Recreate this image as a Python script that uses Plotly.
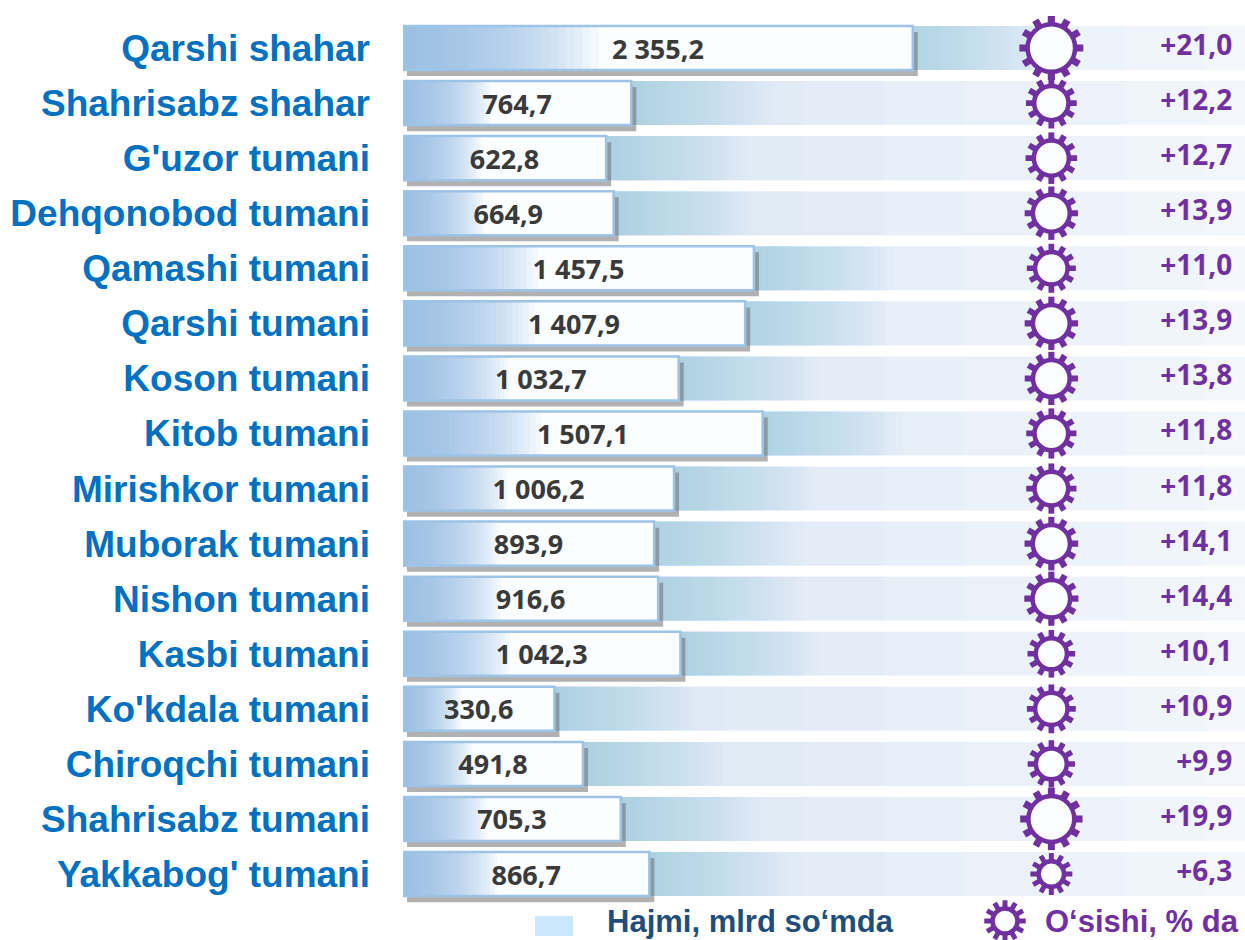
import plotly.graph_objects as go

# ---------------- data ----------------
districts = ["Qarshi shahar", "Shahrisabz shahar", "G'uzor tumani", "Dehqonobod tumani",
             "Qamashi tumani", "Qarshi tumani", "Koson tumani", "Kitob tumani",
             "Mirishkor tumani", "Muborak tumani", "Nishon tumani", "Kasbi tumani",
             "Ko'kdala tumani", "Chiroqchi tumani", "Shahrisabz tumani", "Yakkabog' tumani"]
volume = [2355.2, 764.7, 622.8, 664.9, 1457.5, 1407.9, 1032.7, 1507.1,
          1006.2, 893.9, 916.6, 1042.3, 330.6, 491.8, 705.3, 866.7]
growth = [21.0, 12.2, 12.7, 13.9, 11.0, 13.9, 13.8, 11.8,
          11.8, 14.1, 14.4, 10.1, 10.9, 9.9, 19.9, 6.3]
legend_volume = "Hajmi, mlrd so‘mda"
legend_growth = "O‘sishi, % da"

# ---------------- layout constants ----------------
W, H = 1245, 940
ML, MR = 403, 0
X0, XMAX = -525, 4232           # truncated value axis (bars start at its left edge)
PLOT_W = W - ML - MR
PX = (XMAX - X0) / PLOT_W         # data units per pixel
ROW = 55.07
Y_TOP = -48 / ROW
Y_BOT = Y_TOP + H / ROW
LEG_Y = (921 - 48) / ROW

PURPLE = "#7030A0"
BLUE = "rgb(157,195,230)"
n = len(districts)
ys = list(range(n))


def fmt_vol(v):
    return f"{v:,.1f}".replace(",", " ").replace(".", ",")


def fmt_growth(g):
    return f"+{g:.1f}".replace(".", ",")


fig = go.Figure()
BW = 0.8

# background track (slow left-to-right fade)
fig.add_trace(go.Bar(y=ys, x=[XMAX - X0] * n, base=[X0] * n, orientation="h", width=BW,
                     marker=dict(color="#f3f7fc", line=dict(width=0)), hoverinfo="skip"))
for k in range(1, 11):
    fig.add_trace(go.Bar(y=ys, x=[(XMAX - X0) * k / 10.5] * n, base=[X0] * n,
                         orientation="h", width=BW,
                         marker=dict(color="rgba(170,200,238,0.035)", line=dict(width=0)),
                         hoverinfo="skip"))
# quick gradient on the track, starting at box end
for k in range(1, 21):
    fig.add_trace(go.Bar(y=ys, x=[7 * k * PX] * n, base=volume, orientation="h", width=BW,
                         marker=dict(color="rgba(150,186,232,0.037)", line=dict(width=0)),
                         hoverinfo="skip"))
# shadow
fig.add_trace(go.Bar(y=ys, x=[v - X0 + 1 * PX for v in volume], base=[X0 + 4 * PX] * n,
                     orientation="h", width=BW, offset=-BW / 2 + 0.11,
                     marker=dict(color="rgba(100,100,100,0.5)", line=dict(width=0)),
                     hoverinfo="skip"))
# white box
fig.add_trace(go.Bar(y=ys, x=[v - X0 for v in volume], base=[X0] * n, orientation="h",
                     width=BW, marker=dict(color="#fbfdff", line=dict(width=0)),
                     hoverinfo="skip"))
# left blue gradient inside the box
for k in range(1, 25):
    fig.add_trace(go.Bar(y=ys, x=[0.016 * k * (v - X0) for v in volume], base=[X0] * n,
                         orientation="h", width=BW,
                         marker=dict(color="rgba(145,188,232,0.07)", line=dict(width=0)),
                         hoverinfo="skip"))
# box outline + value labels
fig.add_trace(go.Bar(y=ys, x=[v - X0 for v in volume], base=[X0] * n, orientation="h",
                     width=BW, marker=dict(color="rgba(0,0,0,0)", line=dict(color=BLUE, width=2.5)),
                     text=[fmt_vol(v) for v in volume], textposition="inside",
                     insidetextanchor="middle", constraintext="none", textangle=0,
                     textfont=dict(family="Open Sans", size=27, color="#3a3a3a", weight="bold"),
                     hoverinfo="skip"))

# ---------------- gears ----------------
GX = 0.77
RING_W = 4.5
TOOTH = 6


def add_gear(xs, yv, sizes, widths):
    ray_sizes = [(s / 2 + RING_W / 2 + TOOTH) / 0.7 for s in sizes]
    for k in range(6):
        fig.add_trace(go.Scatter(x=xs, y=yv, mode="markers", xaxis="x2", yaxis="y",
                                 marker=dict(symbol="line-ns", angle=30 * k, opacity=1,
                                             size=ray_sizes, color=PURPLE,
                                             line=dict(color=PURPLE, width=widths)),
                                 hoverinfo="skip", showlegend=False))
    fig.add_trace(go.Scatter(x=xs, y=yv, mode="markers", xaxis="x2", yaxis="y",
                             marker=dict(symbol="circle", size=sizes, color="#fbfcff", opacity=1,
                                         line=dict(color=PURPLE, width=RING_W)),
                             hoverinfo="skip", showlegend=False))


gear_sizes = [16 + 1.5 * g for g in growth]
gear_widths = [4 + 0.15 * g for g in growth]
add_gear([GX] * n, ys, gear_sizes, gear_widths)
# legend gear
add_gear([(1005 - ML) / PLOT_W], [LEG_Y], [25], [5])

# growth labels
fig.add_trace(go.Scatter(x=[0.985] * n, y=ys, mode="text", xaxis="x2", yaxis="y",
                         text=[fmt_growth(g) for g in growth], textposition="middle left",
                         textfont=dict(family="Open Sans", size=28, color=PURPLE, weight="bold"),
                         hoverinfo="skip", showlegend=False))

# ---------------- legend (volume) ----------------
fig.add_shape(type="rect", xref="paper", yref="paper",
              x0=(535 - ML) / PLOT_W, x1=(573 - ML) / PLOT_W,
              y0=1 - 936 / H, y1=1 - 916 / H,
              fillcolor="#c9e8fb", line=dict(width=0))
fig.add_annotation(xref="paper", yref="y", x=(605 - ML) / PLOT_W, y=LEG_Y,
                   text=legend_volume, showarrow=False, xanchor="left", yanchor="middle",
                   font=dict(family="Liberation Sans, Arial", size=31, color="#1f4e79", weight="bold"))
fig.add_annotation(xref="paper", yref="y", x=(1043 - ML) / PLOT_W, y=LEG_Y,
                   text=legend_growth, showarrow=False, xanchor="left", yanchor="middle",
                   font=dict(family="Liberation Sans, Arial", size=31, color=PURPLE, weight="bold"))

fig.update_layout(
    width=W, height=H, margin=dict(l=ML, r=MR, t=0, b=0, autoexpand=False),
    barmode="overlay", showlegend=False,
    plot_bgcolor="white", paper_bgcolor="white",
    xaxis=dict(range=[X0, XMAX], visible=False, fixedrange=True, automargin=False),
    xaxis2=dict(range=[0, 1], overlaying="x", visible=False, fixedrange=True, automargin=False),
    yaxis=dict(range=[Y_BOT, Y_TOP], autorange=False, tickmode="array", tickvals=ys,
               ticktext=districts, showgrid=False, zeroline=False, showline=False,
               ticks="", ticklabelstandoff=32, automargin=False, fixedrange=True,
               tickfont=dict(family="Liberation Sans, Arial", size=37, color="#0070C0",
                             weight="bold")),
)

fig.write_html("out.html", config={"displayModeBar": False},
               post_script="document.body.style.margin='0px';document.body.style.overflow='hidden';")
